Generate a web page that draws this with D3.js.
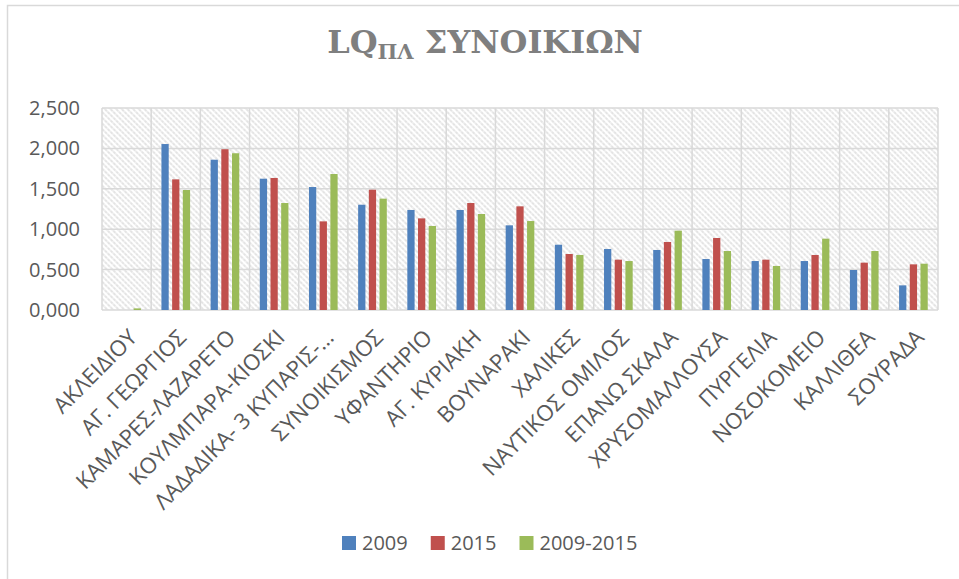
<!DOCTYPE html>
<html lang="el">
<head>
    <meta charset="UTF-8">
    <script src="https://d3js.org/d3.v7.min.js"></script>
    <title>LQ ΣΥΝΟΙΚΙΩΝ</title>
    <style>
      body { margin: 0; background: #fff; }
      text { font-family: "Open Sans", "Noto Sans", sans-serif; fill: #595959; }
    </style>
</head>
<body>
    <div id="container"></div>
<script>
    // κατηγορίες (συνοικίες)
    var categories = ["ΑΚΛΕΙΔΙΟΥ", "ΑΓ. ΓΕΩΡΓΙΟΣ", "ΚΑΜΑΡΕΣ-ΛΑΖΑΡΕΤΟ", "ΚΟΥΛΜΠΑΡΑ-ΚΙΟΣΚΙ",
        "ΛΑΔΑΔΙΚΑ- 3 ΚΥΠΑΡΙΣ-…", "ΣΥΝΟΙΚΙΣΜΟΣ", "ΥΦΑΝΤΗΡΙΟ", "ΑΓ. ΚΥΡΙΑΚΗ", "ΒΟΥΝΑΡΑΚΙ",
        "ΧΑΛΙΚΕΣ", "ΝΑΥΤΙΚΟΣ ΟΜΙΛΟΣ", "ΕΠΑΝΩ ΣΚΑΛΑ", "ΧΡΥΣΟΜΑΛΛΟΥΣΑ", "ΠΥΡΓΕΛΙΑ",
        "ΝΟΣΟΚΟΜΕΙΟ", "ΚΑΛΛΙΘΕΑ", "ΣΟΥΡΑΔΑ"];
    var seriesNames = ["2009", "2015", "2009-2015"];
    var v2009 = [0, 2.054, 1.86, 1.625, 1.522, 1.303, 1.238, 1.238, 1.048, 0.808, 0.755, 0.743, 0.631, 0.606, 0.606, 0.495, 0.305];
    var v2015 = [0, 1.617, 1.99, 1.634, 1.097, 1.489, 1.134, 1.324, 1.283, 0.693, 0.623, 0.842, 0.891, 0.623, 0.681, 0.586, 0.565];
    var v0915 = [0.02, 1.485, 1.94, 1.324, 1.683, 1.378, 1.04, 1.188, 1.101, 0.681, 0.606, 0.982, 0.73, 0.545, 0.883, 0.73, 0.573];
    var yTicks = [0, 0.5, 1, 1.5, 2, 2.5];
    var colors = ["#4f81bd", "#c0504d", "#9bbb59"];

    var width = 959, height = 579;
    var pLeft = 102, pRight = 938, pTop = 108, pBottom = 310;

    var svg = d3.select("#container").append("svg")
        .attr("width", width).attr("height", height);

    // μοτίβο διαγράμμισης
    var defs = svg.append("defs");
    var pat = defs.append("pattern")
        .attr("id", "hatch").attr("patternUnits", "userSpaceOnUse")
        .attr("width", 4).attr("height", 4)
        .attr("patternTransform", "rotate(-45)");
    pat.append("rect").attr("width", 4).attr("height", 4).attr("fill", "#fff");
    pat.append("line").attr("x1", 1).attr("y1", 0).attr("x2", 1).attr("y2", 4)
        .attr("stroke", "#d9d9d9").attr("stroke-width", 1.4).attr("stroke-dasharray", "2.5 0.8");

    // περίγραμμα γραφήματος
    svg.append("rect").attr("x", 7.5).attr("y", 5.5).attr("width", 980).attr("height", 600)
        .attr("fill", "none").attr("stroke", "#d9d9d9").attr("stroke-width", 1.5);

    // τίτλος
    var title = svg.append("text").attr("x", 485).attr("y", 53)
        .attr("text-anchor", "middle")
        .style("font-family", "'DejaVu Serif', serif").style("font-weight", "bold")
        .style("font-size", "32px").style("fill", "#7f7f7f");
    title.append("tspan").text("LQ");
    title.append("tspan").text("ΠΛ").attr("dy", 6).style("font-size", "21px");
    title.append("tspan").text(" ΣΥΝΟΙΚΙΩΝ").attr("dy", -6);

    var data = categories.map(function(c, i) {
        return { name: c, vals: [v2009[i], v2015[i], v0915[i]] };
    });

    var x0 = d3.scaleBand().domain(categories).range([pLeft, pRight]).padding(0);
    var x1 = d3.scaleBand().domain(seriesNames).range([0, x0.bandwidth()])
        .paddingInner(0.32).paddingOuter(0.96);
    var y = d3.scaleLinear().domain([0, 2.5]).range([pBottom, pTop]);

    var gr = d3.formatLocale({ decimal: ",", thousands: ".", grouping: [3], currency: ["", "€"] });
    var fmt = gr.format(".3f");

    // φόντο περιοχής
    svg.append("rect").attr("x", pLeft).attr("y", pTop)
        .attr("width", pRight - pLeft).attr("height", pBottom - pTop)
        .attr("fill", "url(#hatch)");

    // πλέγμα
    svg.append("g").selectAll("line").data(yTicks).enter().append("line")
        .attr("x1", pLeft).attr("x2", pRight)
        .attr("y1", function(d) { return y(d); }).attr("y2", function(d) { return y(d); })
        .attr("stroke", "#d9d9d9").attr("stroke-width", 1.5);
    var bounds = categories.map(function(c) { return x0(c); }).concat([pRight]);
    svg.append("g").selectAll("line").data(bounds).enter().append("line")
        .attr("x1", function(d) { return d; }).attr("x2", function(d) { return d; })
        .attr("y1", pTop).attr("y2", pBottom)
        .attr("stroke", "#d9d9d9").attr("stroke-width", 1.5);

    // μπάρες
    var groups = svg.append("g").selectAll("g").data(data).enter().append("g")
        .attr("transform", function(d) { return "translate(" + x0(d.name) + ",0)"; });
    groups.selectAll("rect").data(function(d) { return d.vals; }).enter().append("rect")
        .attr("x", function(d, i) { return x1(seriesNames[i]); })
        .attr("width", x1.bandwidth())
        .attr("y", function(d) { return y(d); })
        .attr("height", function(d) { return pBottom - y(d); })
        .attr("fill", function(d, i) { return colors[i]; });

    // άξονας y
    var yAxis = svg.append("g").attr("transform", "translate(" + (pLeft - 22) + ",0)")
        .call(d3.axisLeft(y).tickValues(yTicks).tickFormat(fmt).tickSize(0).tickPadding(0));
    yAxis.select(".domain").remove();
    yAxis.selectAll("text").style("font-size", "20px").style("fill", "#595959")
        .style("font-family", "'Open Sans', sans-serif");

    // άξονας x
    var xAxis = svg.append("g").attr("transform", "translate(0," + pBottom + ")")
        .call(d3.axisBottom(x0).tickSize(0).tickPadding(0));
    xAxis.select(".domain").remove();
    xAxis.selectAll("text")
        .attr("text-anchor", "end")
        .attr("dy", "0.7em")
        .attr("transform", "translate(1,18) rotate(-45)")
        .style("font-size", "22px").style("fill", "#595959")
        .style("font-family", "'Open Sans', sans-serif");

    // υπόμνημα
    var legend = svg.append("g");
    var lx = 342;
    seriesNames.forEach(function(s, i) {
        legend.append("rect").attr("x", lx).attr("y", 536).attr("width", 14).attr("height", 14)
            .attr("fill", colors[i]);
        var t = legend.append("text").attr("x", lx + 20).attr("y", 550).text(s)
            .style("font-size", "20px");
        lx += 20 + t.node().getComputedTextLength() + 23;
    });
</script>
</body>
</html>
